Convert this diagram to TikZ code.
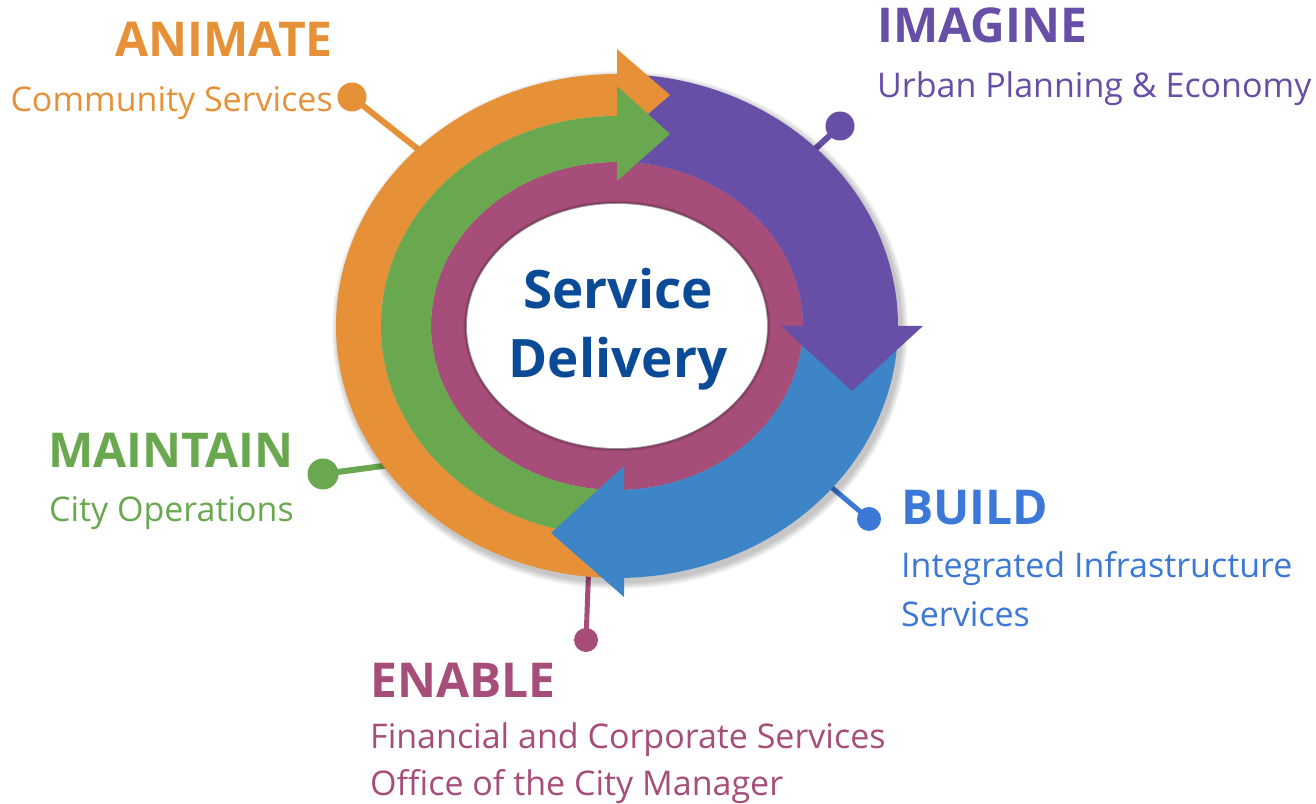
\documentclass[tikz,border=0pt]{standalone}
\usepackage{fontspec}
\setmainfont{Open Sans}
\usepackage{tikz}
\usetikzlibrary{positioning}

\definecolor{animOrange}{HTML}{E69138}
\definecolor{maintGreen}{HTML}{6AA84F}
\definecolor{imagPurple}{HTML}{674EA7}
\definecolor{buildBlue}{HTML}{3D85C6}
\definecolor{buildText}{HTML}{3C78D8}
\definecolor{enabMagenta}{HTML}{A64D79}
\definecolor{coreBlue}{HTML}{0B4A96}

\begin{document}
\begin{tikzpicture}[
            x=1pt, y=1pt,
            heading/.style={font=\fontsize{48}{58}\selectfont\bfseries, inner sep=0pt},
            subhead/.style={font=\fontsize{34}{48}\selectfont, inner sep=0pt, align=left},
            leaddot/.style={circle, fill, inner sep=0pt, minimum size=26pt},
            lead/.style={line width=6pt},
        ]
            \useasboundingbox (0,0) rectangle (1316,803);

            % labels round the cycle
            \node[heading, animOrange, anchor=base east] (animHead) at (333,746) {ANIMATE};
            \node[subhead, animOrange, anchor=base east] (animSub) at ([yshift=-55pt]animHead.base east) {Community Services};
            \node[heading, imagPurple, anchor=base west] (imagHead) at (877,760) {IMAGINE};
            \node[subhead, imagPurple, anchor=base west] (imagSub) at ([yshift=-55pt]imagHead.base west) {Urban Planning \& Economy};
            \node[heading, maintGreen, anchor=base east] (maintHead) at (294,335) {MAINTAIN};
            \node[subhead, maintGreen, anchor=base east] (maintSub) at ([yshift=-54pt]maintHead.base east) {City Operations};
            \node[heading, buildText, anchor=base west] (buildHead) at (901,278) {BUILD};
            % base of a two-line node is its last line
            \node[subhead, buildText, anchor=base west, font=\fontsize{34}{49}\selectfont] (buildSub) at ([yshift=-102pt]buildHead.base west) {Integrated Infrastructure\\Services};
            \node[heading, enabMagenta, anchor=base west] (enabHead) at (370,106) {ENABLE};
            \node[subhead, enabMagenta, anchor=base west, font=\fontsize{34}{47}\selectfont] (enabSub) at ([yshift=-98pt]enabHead.base west) {Financial and Corporate Services\\Office of the City Manager};

            \begin{scope}[shift={(617,477)}]
                % where the leads meet the ring
                \coordinate (animEnd) at (135:270 and 241);
                \coordinate (imagEnd) at (45:270 and 241);
                \coordinate (maintEnd) at (215:270 and 241);
                \coordinate (buildEnd) at (-40:270 and 241);
                \coordinate (enabEnd) at (264:270 and 241);

                \node[leaddot, animOrange, minimum size=29pt] (animDot) at (-265,229) {};
                \node[leaddot, imagPurple, minimum size=29pt] (imagDot) at (223,200) {};
                \node[leaddot, maintGreen, minimum size=31pt] (maintDot) at (-294,-148) {};
                \node[leaddot, buildText, minimum size=24pt] (buildDot) at (252,-193) {};
                \node[leaddot, enabMagenta, minimum size=24pt] (enabDot) at (-31,-314) {};

                \draw[lead, animOrange] (animDot.center) -- (animEnd);
                \draw[lead, imagPurple] (imagDot.center) -- (imagEnd);
                \draw[lead, maintGreen] (maintDot.center) -- (maintEnd);
                \draw[lead, buildText, line width=5pt] (buildDot.center) -- (buildEnd);
                \draw[lead, enabMagenta, line width=5pt] (enabDot.center) -- (enabEnd);

                % soft shadow under the ring
                \foreach \g in {1,...,7}
                    \fill[black, opacity=0.035] (3,-4) ellipse[x radius=281+\g, y radius=252+\g];

                % inner ring
                \fill[enabMagenta, even odd rule] (0,0) ellipse[x radius=186, y radius=164]
                    (0,0) ellipse[x radius=151, y radius=123];
                \foreach \g in {1,...,5}
                    \draw[black, opacity=0.05, line width=\g pt] (0,0) ellipse[x radius=151, y radius=123];
                \fill[white] (0,0) ellipse[x radius=150, y radius=122];

                % blue and purple arcs
                \fill[buildBlue] (0:281 and 252) arc[start angle=0, end angle=-91, x radius=281, y radius=252]
                    -- (-91:186 and 164) arc[start angle=-91, end angle=0, x radius=186, y radius=164] -- cycle;
                \fill[imagPurple] (90:281 and 252) arc[start angle=90, end angle=-1, x radius=281, y radius=252]
                    -- (-1:186 and 164) arc[start angle=-1, end angle=90, x radius=186, y radius=164] -- cycle;
                \fill[imagPurple] (164,0) -- (306,0) -- (235,-65) -- cycle;

                % orange and green arcs
                \fill[animOrange] (268:281 and 252) arc[start angle=268, end angle=89, x radius=281, y radius=252]
                    -- (89:236 and 210) arc[start angle=89, end angle=268, x radius=236, y radius=210] -- cycle;
                \fill[maintGreen] (268:236 and 210) arc[start angle=268, end angle=89, x radius=236, y radius=210]
                    -- (89:186 and 164) arc[start angle=89, end angle=268, x radius=186, y radius=164] -- cycle;
                \fill[animOrange] (0,277) -- (53,231) -- (0,185) -- cycle;
                \fill[maintGreen] (0,240) -- (53,192) -- (0,145) -- cycle;
                \fill[buildBlue] (7,-140) -- (-66,-207) -- (7,-271) -- cycle;

                \node[font=\fontsize{53}{69}\selectfont\bfseries, coreBlue, align=center, inner sep=0pt] (core) at (1,-3) {Service\\Delivery};
            \end{scope}
        \end{tikzpicture}
\end{document}
